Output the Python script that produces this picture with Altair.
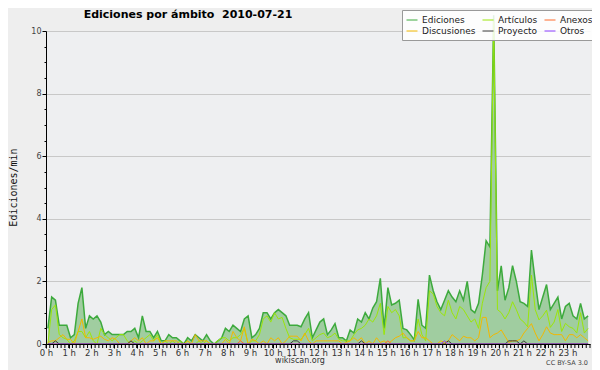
import altair as alt
import pandas as pd

# ---- data (edits per minute, 10-minute buckets, 2010-07-21) ----
series = ["Ediciones", "Artículos", "Anexos", "Discusiones", "Proyecto", "Otros"]
colors = ["#3DAA3D", "#9BE60A", "#FF6A2A", "#F2B800", "#3A3A3A", "#8A3CFF"]

ediciones = [
    0.5, 1.5, 1.4, 0.6, 0.6, 0.6, 0.2, 0.3, 1.3, 1.8,
    0.5, 0.9, 0.8, 0.9, 0.7, 0.3, 0.4, 0.3, 0.3, 0.3,
    0.3, 0.4, 0.4, 0.5, 0.2, 0.9, 0.4, 0.4, 0.2, 0.4,
    0.1, 0.1, 0.3, 0.2, 0.2, 0.1, 0.0, 0.2, 0.1, 0.3,
    0.2, 0.1, 0.3, 0.1, 0.0, 0.1, 0.2, 0.5, 0.4, 0.6,
    0.5, 0.4, 0.8, 0.9, 0.2, 0.3, 0.5, 1.0, 1.0, 0.8,
    1.0, 1.1, 1.0, 0.9, 0.6, 0.6, 0.6, 0.55, 0.8, 1.0,
    0.2, 0.45, 0.7, 0.8, 0.3, 0.45, 0.65, 0.2, 0.2, 0.1,
    0.45, 0.35, 0.8, 0.7, 1.0, 0.8, 1.15, 1.35, 2.1, 0.5,
    1.8, 1.25, 1.3, 1.4, 0.5, 0.45, 0.3, 0.13, 1.43, 0.6,
    0.5, 2.2, 1.7, 1.35, 1.1, 1.4, 1.7, 1.5, 1.35, 1.7,
    1.4, 2.0, 1.1, 1.0, 1.3, 2.2, 3.3, 3.1, 10.5, 1.7,
    2.5, 1.4, 1.8, 2.5, 2.0, 1.35, 1.3, 1.2, 3.0, 2.0,
    1.1, 1.5, 1.9, 1.1, 1.3, 1.5, 0.8, 1.2, 1.3, 0.9,
    0.8, 1.3, 0.8, 0.9,
]
articulos = [
    0.0, 1.1, 1.25, 0.3, 0.2, 0.15, 0.0, 0.1, 0.4, 0.4,
    0.2, 0.4, 0.1, 0.0, 0.5, 0.3, 0.2, 0.1, 0.2, 0.3,
    0.3, 0.1, 0.0, 0.1, 0.0, 0.1, 0.2, 0.3, 0.1, 0.3,
    0.0, 0.1, 0.0, 0.1, 0.0, 0.1, 0.0, 0.1, 0.0, 0.0,
    0.1, 0.0, 0.1, 0.0, 0.0, 0.1, 0.2, 0.2, 0.1, 0.2,
    0.2, 0.3, 0.5, 0.0, 0.1, 0.1, 0.3, 0.8, 0.9, 0.7,
    1.0, 0.8, 0.85, 0.5, 0.2, 0.15, 0.15, 0.15, 0.3, 0.5,
    0.1, 0.2, 0.3, 0.35, 0.2, 0.25, 0.35, 0.15, 0.1, 0.1,
    0.1, 0.3, 0.45, 0.5, 0.6, 0.8, 0.7, 0.9, 1.3, 0.3,
    1.2, 1.0, 1.1, 0.9, 0.2, 0.2, 0.1, 0.1, 0.8, 0.3,
    0.1, 1.7, 1.6, 1.2, 1.0, 0.9, 1.4, 1.0, 0.8, 1.2,
    1.1, 0.9, 0.7, 0.8, 0.5, 1.3, 1.8, 2.0, 10.3, 1.1,
    1.0, 0.8, 1.0, 1.35, 1.1, 0.8, 0.7, 0.55, 2.2, 1.1,
    0.77, 0.9, 1.08, 0.53, 0.7, 1.1, 0.4, 0.66, 0.55, 0.5,
    0.35, 1.0, 0.35, 0.5,
]
discusiones = [
    0.05, 0.1, 0.1, 0.2, 0.3, 0.15, 0.15, 0.0, 0.4, 0.8,
    0.2, 0.2, 0.15, 0.2, 0.25, 0.15, 0.1, 0.2, 0.15, 0.0,
    0.0, 0.0, 0.1, 0.2, 0.1, 0.2, 0.0, 0.1, 0.1, 0.2,
    0.0, 0.1, 0.1, 0.1, 0.1, 0.0, 0.0, 0.1, 0.0, 0.3,
    0.1, 0.1, 0.1, 0.0, 0.0, 0.0, 0.0, 0.15, 0.0, 0.4,
    0.2, 0.1, 0.55, 0.0, 0.15, 0.1, 0.0, 0.1, 0.0, 0.2,
    0.1, 0.2, 0.0, 0.1, 0.25, 0.25, 0.25, 0.1, 0.35, 0.1,
    0.0, 0.1, 0.1, 0.1, 0.1, 0.1, 0.1, 0.1, 0.0, 0.05,
    0.1, 0.2, 0.1, 0.2, 0.0, 0.1, 0.0, 0.2, 0.05, 0.1,
    0.0, 0.1, 0.2, 0.25, 0.35, 0.2, 0.1, 0.1, 0.4, 0.2,
    0.2, 0.1, 0.0, 0.0, 0.1, 0.05, 0.1, 0.3, 0.2, 0.1,
    0.25, 0.2, 0.2, 0.1, 0.2, 0.85, 0.85, 0.2, 0.3, 0.35,
    0.45, 0.25, 0.05, 0.1, 0.1, 0.15, 0.35, 0.5, 0.65, 0.35,
    0.1, 0.3, 0.55, 0.35, 0.3, 0.3, 0.3, 0.1, 0.3, 0.3,
    0.2, 0.3, 0.2, 0.1,
]
# sparse series: bucket index -> value (all other buckets are 0)
anexos_pts = {51: 0.1, 90: 0.1}
proyecto_pts = {2: 0.1, 22: 0.1, 65: 0.1, 66: 0.1, 83: 0.1, 106: 0.1,
                122: 0.1, 123: 0.1, 124: 0.1, 126: 0.1}
otros_pts = {105: 0.1}

n = len(ediciones)
minutes = [(i + 0.5) * 10 for i in range(n)]


def dense(pts):
    return [pts.get(i, 0.0) for i in range(n)]


values = {
    "Ediciones": ediciones,
    "Artículos": articulos,
    "Discusiones": discusiones,
    "Anexos": dense(anexos_pts),
    "Proyecto": dense(proyecto_pts),
    "Otros": dense(otros_pts),
}

rows = []
for name in ["Ediciones", "Artículos", "Discusiones", "Anexos", "Proyecto", "Otros"]:
    for m, v in zip(minutes, values[name]):
        rows.append({"minuto": m, "valor": v, "serie": name})
df = pd.DataFrame(rows)
ed_df = df[df["serie"] == "Ediciones"]

hour_ticks = [h * 60 for h in range(24)]
minor_df = pd.DataFrame({"minuto": list(range(0, 1441, 10))})
y_ticks = [k * 0.5 for k in range(21)]

x_enc = alt.X(
    "minuto:Q",
    scale=alt.Scale(domain=[0, 1440], nice=False, zero=False),
    axis=alt.Axis(
        values=hour_ticks,
        labelExpr="(datum.value / 60) + ' h'",
        title=None, grid=False, tickSize=4, tickColor="#000", domainColor="#000",
        labelFont="DejaVu Sans", labelFontSize=8.5, labelColor="#333",
        labelPadding=0, labelOverlap=False, labelFlush=False, zindex=1,
    ),
)
y_enc = alt.Y(
    "valor:Q",
    scale=alt.Scale(domain=[0, 10], nice=False),
    axis=alt.Axis(
        values=y_ticks,
        labelExpr="datum.value % 2 === 0 ? '' + datum.value : ''",
        labelOverlap=False,
        title="Ediciones/min", titleFont="DejaVu Sans Mono", titleFontSize=10,
        titleFontWeight="normal", titleColor="#111", titleX=-33, titleY=156,
        titleAngle=270, titleAlign="center", titleBaseline="middle",
        grid=True,
        gridColor={"condition": {"test": "datum.value % 2 === 0 && datum.value > 0",
                                 "value": "#C8C8C8"}, "value": "transparent"},
        tickSize={"condition": {"test": "datum.value % 2 === 0", "value": 4}, "value": 2},
        tickColor="#000", domainColor="#000",
        labelFont="DejaVu Sans", labelFontSize=8, labelColor="#444", labelPadding=1,
    ),
)

area = alt.Chart(ed_df).mark_area(color="#A0CDA0", opacity=1).encode(x=x_enc, y=y_enc)

lines = alt.Chart(df).mark_line().encode(
    x=x_enc,
    y=y_enc,
    color=alt.Color(
        "serie:N",
        scale=alt.Scale(domain=series, range=colors),
        legend=alt.Legend(
            title=None, orient="none", legendX=356, legendY=-21, columns=3,
            direction="horizontal",
            symbolType="stroke", symbolSize=121, symbolStrokeWidth=1,
            labelFont="DejaVu Sans", labelFontSize=9, labelColor="#222",
            labelOffset=4, rowPadding=0, columnPadding=4, padding=4,
            fillColor="rgba(255,255,255,0.85)", strokeColor="#999",
        ),
    ),
    strokeWidth=alt.condition(alt.datum.serie == "Ediciones", alt.value(1.5), alt.value(1)),
)

minor_ticks = alt.Chart(minor_df).mark_rule(color="#000", strokeWidth=1).encode(
    x=x_enc, y=alt.value(313), y2=alt.value(317)
)

txt_df = pd.DataFrame({"t": ["x"]})
title_txt = alt.Chart(txt_df).mark_text(
    text="Ediciones por ámbito\u00a0\u00a02010-07-21", font="DejaVu Sans", fontSize=11,
    fontWeight="bold", color="#000", align="center", baseline="alphabetic",
).encode(x=alt.value(142), y=alt.value(-13))
site_txt = alt.Chart(txt_df).mark_text(
    text="wikiscan.org", font="DejaVu Sans", fontSize=8, color="#333",
    align="center", baseline="alphabetic",
).encode(x=alt.value(254), y=alt.value(332))
lic_txt = alt.Chart(txt_df).mark_text(
    text="CC BY-SA 3.0", font="DejaVu Sans", fontSize=6.5, color="#444",
    align="right", baseline="alphabetic",
).encode(x=alt.value(542), y=alt.value(334))

chart = alt.layer(area, lines, minor_ticks, title_txt, site_txt, lic_txt).properties(
    width=544, height=313,
    autosize=alt.AutoSizeParams(type="none"),
    padding={"left": 38, "top": 23, "right": 2, "bottom": 26},
    background="#EEEEEE",
).configure_view(fill="#EEEFF1", strokeWidth=0).configure_axis(labelOverlap=False)

chart.save("out.html", embed_options={"renderer": "svg", "actions": False})
